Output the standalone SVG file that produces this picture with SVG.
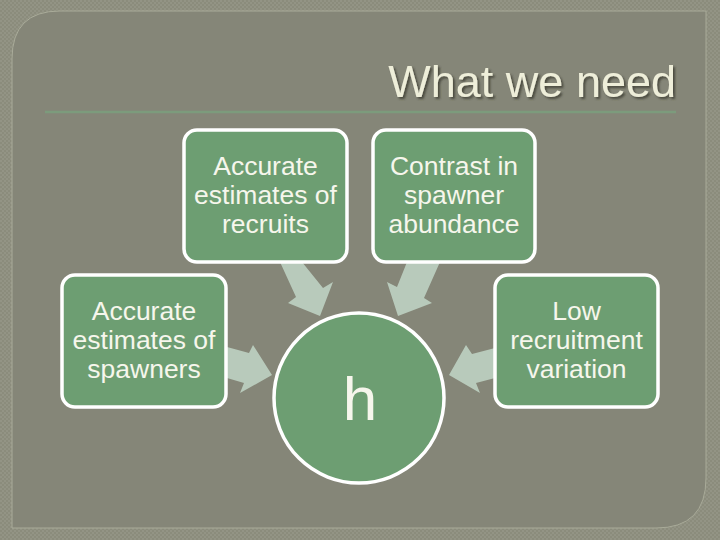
<svg xmlns="http://www.w3.org/2000/svg" width="720" height="540" viewBox="0 0 720 540">
  <defs>
    <pattern id="tex" width="4" height="4" patternUnits="userSpaceOnUse">
      <rect width="4" height="4" fill="#8b8c7c"/>
      <rect width="2" height="2" fill="#939485"/>
      <rect x="2" y="2" width="2" height="2" fill="#939485"/>
    </pattern>
    <filter id="sh" x="-5%" y="-20%" width="110%" height="140%">
      <feDropShadow dx="2" dy="2" stdDeviation="1" flood-color="#3a3a30" flood-opacity="0.8"/>
    </filter>
  </defs>
  <style>
    .box { fill: #6d9e72; stroke: #ffffff; stroke-width: 3.5; }
    .lbl { font-family: "Liberation Sans", Arial, sans-serif; font-size: 26.5px; fill: #f6f6ec; text-anchor: middle; }
    .arr { fill: #b8cabb; stroke: none; }
  </style>
  <rect width="720" height="540" fill="url(#tex)"/>
  <path d="M 60 11 L 706 11 L 706 478 Q 706 528 656 528 L 12 528 L 12 59 Q 12 11 60 11 Z" fill="#858678" stroke="#a9ab99" stroke-width="1"/>
  <g id="title">
    <text x="676" y="97" font-family="Liberation Sans, Arial, sans-serif" font-size="45" fill="#eeeed9" text-anchor="end" filter="url(#sh)">What we need</text>
    <line x1="45" y1="112" x2="676" y2="112" stroke="#7c9b7c" stroke-width="2.5"/>
  </g>
  <g id="connectors">
    <polygon class="arr" points="280,262 302,262 323,288 333,282 320,316 288,303 296,297"/>
    <polygon class="arr" points="407,262 440,262 424,298 432,303 398,316 387,282 397,287"/>
    <polygon class="arr" points="227,347 249,353 253,345 272,375 240,393 244,383 227,378"/>
    <polygon class="arr" points="495,348 472,354 466,345 449,375 480,393 476,383 495,378"/>
  </g>
  <g id="node-recruits">
    <rect class="box" x="184" y="130" width="163" height="132" rx="13"/>
    <text class="lbl" x="265.5" y="175">Accurate</text>
    <text class="lbl" x="265.5" y="204">estimates of</text>
    <text class="lbl" x="265.5" y="233">recruits</text>
  </g>
  <g id="node-contrast">
    <rect class="box" x="373" y="130" width="162" height="132" rx="13"/>
    <text class="lbl" x="454" y="175">Contrast in</text>
    <text class="lbl" x="454" y="204">spawner</text>
    <text class="lbl" x="454" y="233">abundance</text>
  </g>
  <g id="node-spawners">
    <rect class="box" x="62" y="275" width="164" height="132" rx="13"/>
    <text class="lbl" x="144" y="320">Accurate</text>
    <text class="lbl" x="144" y="349">estimates of</text>
    <text class="lbl" x="144" y="378">spawners</text>
  </g>
  <g id="node-variation">
    <rect class="box" x="495" y="275" width="163" height="132" rx="13"/>
    <text class="lbl" x="576.5" y="320">Low</text>
    <text class="lbl" x="576.5" y="349">recruitment</text>
    <text class="lbl" x="576.5" y="378">variation</text>
  </g>
  <g id="node-h">
    <circle class="box" cx="359" cy="398" r="85" stroke-width="4"/>
    <text x="360" y="420" font-family="Liberation Sans, Arial, sans-serif" font-size="62" fill="#f6f6ec" text-anchor="middle">h</text>
  </g>
</svg>
